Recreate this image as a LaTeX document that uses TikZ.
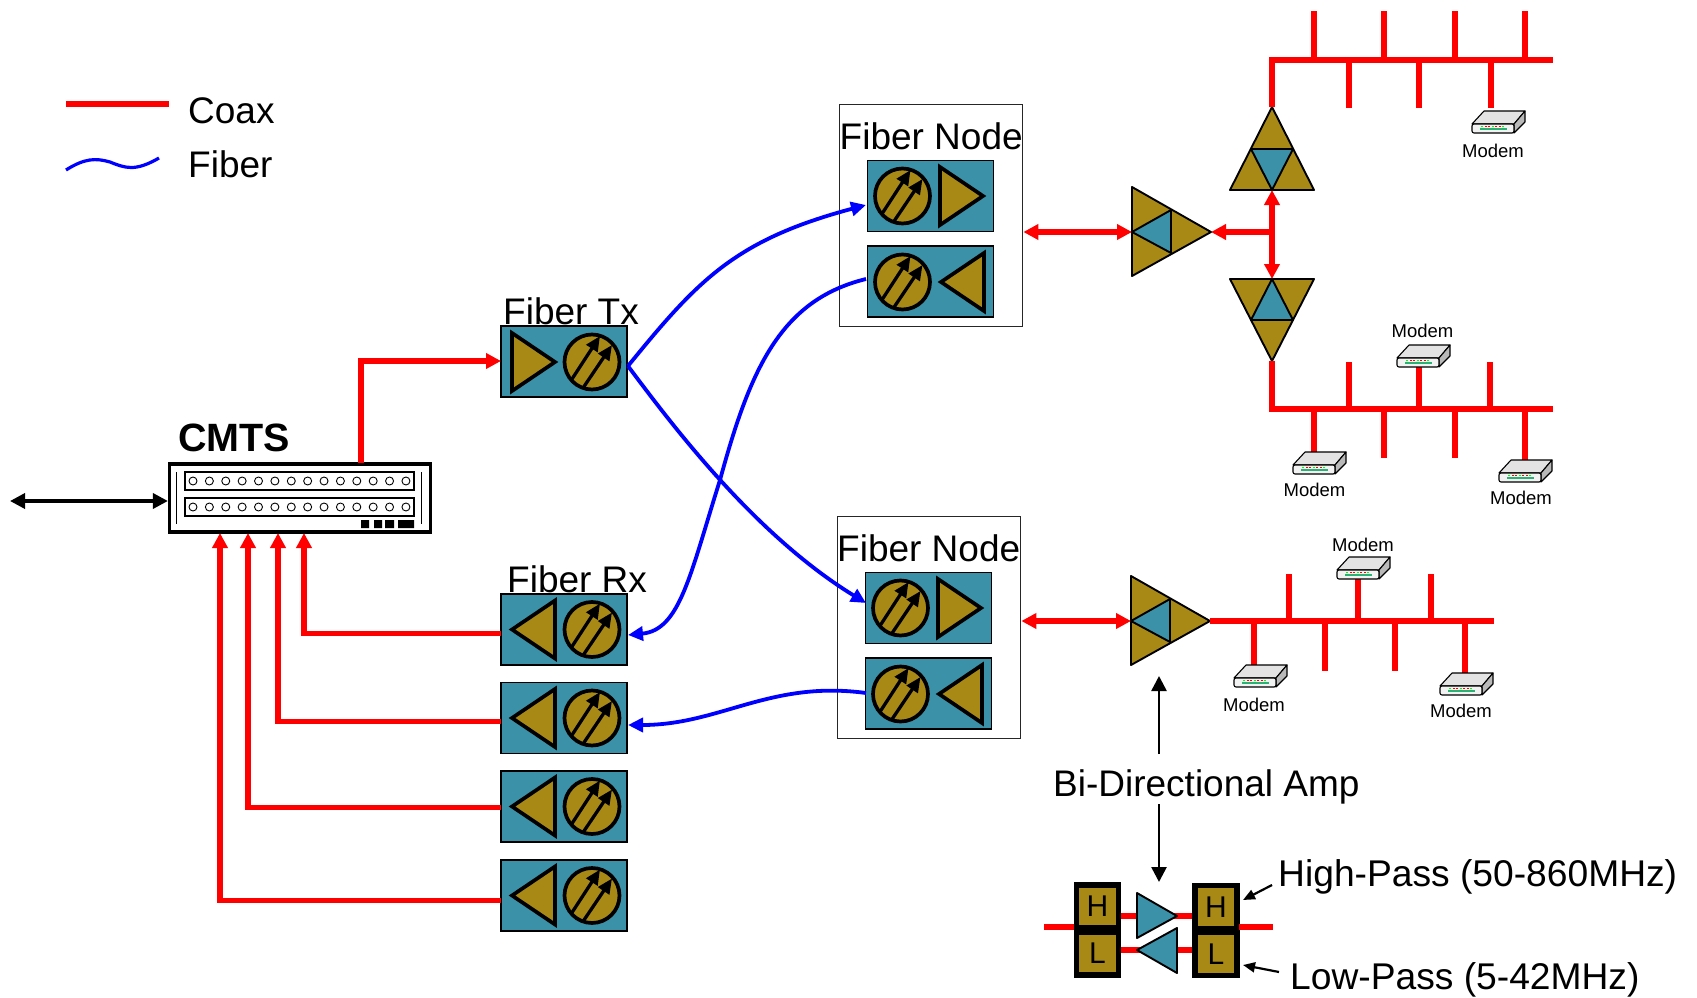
\documentclass[tikz,border=0pt]{standalone}
\usepackage{fontspec}
\setmainfont{Liberation Sans}
\usetikzlibrary{arrows.meta}
\definecolor{gold}{HTML}{A98915}
\definecolor{teal2}{HTML}{3A91A8}
\newcommand\bigf{\fontsize{37}{40}\selectfont}
\newcommand\busstub[3]{\coordinate (sa) at (#1,#2); \coordinate (sb) at (#1,#3); \draw[bus] (sa) -- (sb);}
\tikzset{
  coax/.style={red,line width=5.2pt,line join=miter},
  bus/.style={red,line width=5.8pt},
  fiber/.style={blue,line width=3.8pt},
  rtip/.style={-{Triangle[length=15pt,width=15pt]}},
  rtips/.style={{Triangle[length=15pt,width=15pt]}-{Triangle[length=15pt,width=15pt]}},
  btip/.style={-{Triangle[length=15pt,width=14pt]}},
  modbox/.style={draw=black,line width=1.7pt,fill=teal2,minimum width=126pt,minimum height=71pt,inner sep=0},
  nodebox/.style={draw=black!85,line width=1.7pt,fill=white,minimum width=183pt,minimum height=222pt,inner sep=0},
  big/.style={font=\bigf,inner sep=0,anchor=base west},
  modemlab/.style={font=\fontsize{18.5}{20}\selectfont,inner sep=0,anchor=base},
  filt/.style={draw=black,line width=5.5pt,fill=gold,minimum width=42pt,minimum height=43pt,inner sep=0,font=\fontsize{30}{32}\selectfont},
  tri/.style={draw=black,line width=3.7pt,fill=gold,line join=miter},
  ampline/.style={draw=black,line width=1.9pt,line join=round},
  pics/eo/.style={code={
    \draw[tri] (0,0) circle (27.5);
    \draw[black,line width=3.3pt,-{Triangle[length=15pt,width=13pt]}] (-20,17) -- (8,-26);
    \draw[black,line width=3.3pt,-{Triangle[length=15pt,width=13pt]}] (-9,26) -- (20,-17);
  }},
  pics/trir/.style={code={\draw[tri] (-22,-29) -- (21,0) -- (-22,29) -- cycle;}},
  pics/tril/.style={code={\draw[tri] (22,-29) -- (-21,0) -- (22,29) -- cycle;}},
  pics/amp/.style={code={
    \draw[ampline,fill=gold] (-40,-45) -- (39,0) -- (-40,44) -- cycle;
    \draw[ampline,fill=teal2] (-40,0) -- (-1,-22) -- (-1,21) -- cycle;
  }},
  pics/ampup/.style={code={
    \draw[ampline,fill=gold] (0,-42) -- (42,41) -- (-42,41) -- cycle;
    \draw[ampline,fill=teal2] (-21,0) -- (21,0) -- (0,41) -- cycle;
  }},
  pics/ampdown/.style={code={
    \draw[ampline,fill=gold] (0,41) -- (42,-41) -- (-42,-41) -- cycle;
    \draw[ampline,fill=teal2] (-21,0) -- (21,0) -- (0,-41) -- cycle;
  }},
  pics/modem/.style={code={
    \draw[black,line width=1.1pt,line join=round,fill=gray!22] (-14,-11) -- (27,-11) -- (16,2) -- (-26,2) -- cycle;
    \draw[black,line width=1.1pt,line join=round,fill=gray!55] (16,2) -- (27,-11) -- (27,0) -- (16,11) -- cycle;
    \draw[black,line width=1.1pt,rounded corners=2pt,fill=gray!10] (-26,2) -- (16,2) -- (16,11) -- (-26,11) -- cycle;
    \fill[teal2!70!green] (-18,5.6) rectangle (9,8.2);
    \foreach \i/\c in {-17/green,-13.5/red,-10/red,-6.5/green,-3/red,0.5/red,4/green}{\fill[\c] (\i,3.6) rectangle ++(2,1.6);}
  }},
}
\begin{document}
\begin{tikzpicture}[x=1pt,y=-1pt]
\useasboundingbox (0,0) rectangle (1697,998);
% legend
\coordinate (lc1) at (66,104); \coordinate (lc2) at (169,104);
\draw[coax,line width=5.5pt] (lc1) -- (lc2);
\node[big] (coaxl) at (188,123) {Coax};
\coordinate (lf1) at (66,170); \coordinate (lf2) at (159,158);
\draw[blue,line width=3.2pt] (lf1) .. controls (85,158) and (96,158) .. (110,162) .. controls (125,168) and (135,172) .. (lf2);
\node[big] (fiberl) at (188,177) {Fiber};
% CMTS
\node[draw=black,line width=3.2pt,fill=white,minimum width=261pt,minimum height=68pt,inner sep=0] (cmts) at (300,498) {};
\node[font=\fontsize{39.5}{42}\selectfont\bfseries,inner sep=0,anchor=base west] (cmtsl) at (178,451) {CMTS};
\node[draw=black,line width=1.2pt,minimum width=229pt,minimum height=18pt,inner sep=0] (row1) at (299.5,481) {};
\node[draw=black,line width=1.2pt,minimum width=229pt,minimum height=18pt,inner sep=0] (row2) at (299.5,507) {};
\foreach \k in {0,...,13}{
  \draw[black,line width=.9pt] (193+\k*16.38,481) circle (4);
  \draw[black,line width=.9pt] (193+\k*16.38,507) circle (4);
}
\draw[black,line width=.9pt] (176,472) -- (176,524);
\draw[black,line width=.9pt] (421,472) -- (421,524);
\fill[black] (361,520) rectangle (369,528) (374,520) rectangle (382,528) (385,520) rectangle (394,528) (398,520) rectangle (414,528);
\coordinate (ext) at (10,501);
\draw[black,line width=3.5pt,{Triangle[length=15pt,width=15pt]}-{Triangle[length=15pt,width=15pt]}] (ext) -- (cmts.west |- ext);
% modules
\node[modbox] (tx) at (564,361.5) {};
\pic at (534,362) {trir}; \pic at (592,362) {eo};
\node[big] (txl) at (503,324) {Fiber Tx};
\node[big] (rxl) at (507,592) {Fiber Rx};
\node[modbox] (rx1) at (564,629.5) {};
\node[modbox] (rx2) at (564,718) {};
\node[modbox] (rx3) at (564,806.5) {};
\node[modbox] (rx4) at (564,895.5) {};
\foreach \y in {629.5,718,806.5,895.5}{ \pic at (533,\y) {tril}; \pic at (592,\y) {eo}; }
% CMTS red links
\coordinate (c0) at (361,463);
\coordinate (t0) at (501,361);
\draw[coax,rtip] (c0) |- (t0);
\coordinate (in1) at (304,533); \coordinate (r1) at (501,633.5);
\coordinate (in2) at (278,533); \coordinate (r2) at (501,721.5);
\coordinate (in3) at (248,533); \coordinate (r3) at (501,807.5);
\coordinate (in4) at (220,533); \coordinate (r4) at (501,900.5);
\draw[coax,rtip] (r1) -| (in1);
\draw[coax,rtip] (r2) -| (in2);
\draw[coax,rtip] (r3) -| (in3);
\draw[coax,rtip] (r4) -| (in4);
% fiber nodes
\node[nodebox] (fn1) at (931,215.5) {};
\node[nodebox] (fn2) at (929,627.5) {};
\node[big] (fn1l) at (839.5,149.5) {Fiber Node};
\node[big] (fn2l) at (837,561.5) {Fiber Node};
\node[modbox] (a1) at (930.5,196) {};
\node[modbox] (b1) at (930.5,281.5) {};
\node[modbox] (a2) at (928.5,608) {};
\node[modbox] (b2) at (928.5,693.5) {};
\pic at (902.5,196) {eo}; \pic at (962,196) {trir};
\pic at (902.5,282) {eo}; \pic at (962,282) {tril};
\pic at (900.5,608) {eo}; \pic at (960,608) {trir};
\pic at (900.5,694) {eo}; \pic at (960,694) {tril};
% fibers
\coordinate (txo) at (628,366);
\coordinate (a1i) at (866,205);
\coordinate (a2i) at (866,603);
\coordinate (b1o) at (866,279);
\coordinate (b2o) at (866,693);
\coordinate (rx1i) at (628,635);
\coordinate (rx2i) at (628,725);
\coordinate (cross) at (720,480);
\draw[fiber,btip] (txo) .. controls (698,280) and (735,240) .. (a1i);
\draw[fiber,btip] (txo) .. controls (672,425) and (755,535) .. (a2i);
\draw[fiber,btip] (b1o) .. controls (780,300) and (750,370) .. (cross) .. controls (690,575) and (680,630) .. (rx1i);
\draw[fiber,btip] (b2o) .. controls (770,680) and (720,725) .. (rx2i);
% amps
\pic at (1172,232) {amp};
\pic at (1272,149) {ampup};
\pic at (1272,320) {ampdown};
\pic at (1171,621) {amp};
\coordinate (am1w) at (1132,232); \coordinate (am1e) at (1211,232);
\coordinate (am2w) at (1131,621); \coordinate (am2e) at (1210,621);
\coordinate (upb) at (1272,190); \coordinate (dnt) at (1272,279);
\coordinate (tee) at (1272,232);
\draw[coax,rtips] (fn1.east |- am1w) -- (am1w);
\draw[coax,rtips] (fn2.east |- am2w) -- (am2w);
\draw[coax,rtip] (tee) -- (am1e);
\draw[coax,rtips] (upb) -- (dnt);
% top bus
\coordinate (b1l) at (1272,60); \coordinate (b1r) at (1553,60);
\coordinate (upa) at (1272,107);
\draw[bus] (upa) -- (b1l) -- (b1r);
\foreach \x in {1314,1384,1455,1525}{\busstub{\x}{60}{11}}
\foreach \x in {1349,1419,1491}{\busstub{\x}{60}{108}}
% lower bus
\coordinate (b2l) at (1272,409); \coordinate (b2r) at (1553,409);
\coordinate (dna) at (1272,361);
\draw[bus] (dna) -- (b2l) -- (b2r);
\foreach \x in {1349,1490}{\busstub{\x}{409}{362}}
\busstub{1419}{409}{365}
\busstub{1314}{409}{452}
\foreach \x in {1384,1455}{\busstub{\x}{409}{458}}
\busstub{1525}{409}{460}
% third bus
\coordinate (b3r) at (1494,621);
\draw[bus] (am2e) -- (b3r);
\foreach \x in {1289,1431}{\busstub{\x}{621}{574}}
\busstub{1358}{621}{578}
\foreach \x in {1325,1395}{\busstub{\x}{621}{671}}
\busstub{1254}{621}{666}
\busstub{1465}{621}{674}
% modems
\pic at (1498,122) {modem}; \node[modemlab] (mt1) at (1493,157) {Modem};
\pic at (1423,356) {modem}; \node[modemlab] (mt2) at (1422.5,337) {Modem};
\pic at (1319,463) {modem}; \node[modemlab] (mt3) at (1314.5,496) {Modem};
\pic at (1525,471) {modem}; \node[modemlab] (mt4) at (1521,504) {Modem};
\pic at (1260,676) {modem}; \node[modemlab] (mt5) at (1254,711) {Modem};
\pic at (1363,568) {modem}; \node[modemlab] (mt6) at (1363,551) {Modem};
\pic at (1466,684) {modem}; \node[modemlab] (mt7) at (1461,717.5) {Modem};
% Bi-directional
\node[big] (bi) at (1053,796) {Bi-Directional Amp};
\coordinate (biu) at (1159,754); \coordinate (bit) at (1159,676);
\coordinate (bid) at (1159,804); \coordinate (bib) at (1159,882);
\draw[black,line width=2.6pt,-{Triangle[length=15pt,width=15pt]}] (biu) -- (bit);
\draw[black,line width=2.6pt,-{Triangle[length=15pt,width=15pt]}] (bid) -- (bib);
% filter block
\coordinate (fl0) at (1044,927); \coordinate (fr0) at (1273,927);
\node[filt] (hl) at (1097.5,906.5) {H};
\node[filt] (ll) at (1097.5,953.5) {L};
\node[filt] (hr) at (1216,907) {H};
\node[filt] (lr) at (1216,954) {L};
\draw[bus] (fl0) -- (1074,927);
\draw[bus] (1239,927) -- (fr0);
\draw[bus] (hl.east |- 0,916) -- (hr.west |- 0,916);
\draw[bus] (ll.east |- 0,950) -- (lr.west |- 0,950);
\draw[ampline,fill=teal2] (1137,893) -- (1177,916) -- (1137,938) -- cycle;
\draw[ampline,fill=teal2] (1177,928) -- (1137,950) -- (1177,973) -- cycle;
\node[big,font=\fontsize{37.2}{40}\selectfont] (hp) at (1278,886) {High-Pass (50-860MHz)};
\node[big,font=\fontsize{37.2}{40}\selectfont] (lp) at (1290,989) {Low-Pass (5-42MHz)};
\coordinate (hp0) at (1272,885); \coordinate (hp1) at (1243,900);
\coordinate (lp0) at (1279,972); \coordinate (lp1) at (1243,965);
\draw[black,line width=2.2pt,-{Triangle[length=12pt,width=10pt]}] (hp0) -- (hp1);
\draw[black,line width=2.2pt,-{Triangle[length=12pt,width=10pt]}] (lp0) -- (lp1);
\end{tikzpicture}
\end{document}
